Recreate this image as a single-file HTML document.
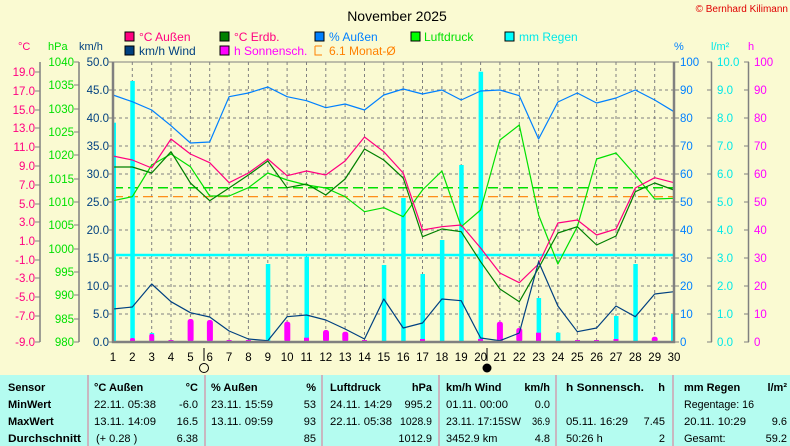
<!DOCTYPE html>
<html><head><meta charset="utf-8"><style>
html,body{margin:0;padding:0;background:#fafad2;}
svg{display:block;font-family:"Liberation Sans",sans-serif;}
.tb{font-family:"Liberation Sans Narrow","Liberation Sans",sans-serif;font-size:11px;fill:#000;}
.b{font-weight:bold;}
</style></head><body>
<svg width="790" height="446" viewBox="0 0 790 446" xmlns="http://www.w3.org/2000/svg">
<rect width="790" height="446" fill="#fafad2"/>
<text x="397" y="21" font-size="14" text-anchor="middle" fill="#000">November 2025</text>
<text x="788" y="12" font-size="10" text-anchor="end" fill="#e00000">© Bernhard Kilimann</text>
<g font-size="12">
<rect x="125" y="32" width="9" height="9" fill="#ff0080" stroke="#000"/><text x="139" y="41" fill="#ff0080">°C  Außen</text>
<rect x="220" y="32" width="9" height="9" fill="#008000" stroke="#000"/><text x="234" y="41" fill="#ff0080">°C Erdb.</text>
<rect x="315" y="32" width="9" height="9" fill="#0080ff" stroke="#000"/><text x="329" y="41" fill="#0080ff">% Außen</text>
<rect x="411" y="32" width="9" height="9" fill="#00ff00" stroke="#000"/><text x="424" y="41" fill="#00e000">Luftdruck</text>
<rect x="505" y="32" width="9" height="9" fill="#00ffff" stroke="#000"/><text x="519" y="41" fill="#00e8e8">mm Regen</text>
<rect x="125" y="46" width="9" height="9" fill="#004080" stroke="#000"/><text x="139" y="55" fill="#004080">km/h Wind</text>
<rect x="220" y="46" width="9" height="9" fill="#ff00ff" stroke="#000"/><text x="234" y="55" fill="#ff00ff">h Sonnensch.</text>
<path d="M315 46h7M315 46v9h7" stroke="#ff8000" fill="none"/><text x="329" y="55" fill="#ff8000">6.1 Monat-Ø</text>
</g>
<g font-size="11">
<text x="18" y="50" fill="#ff0080">°C</text>
<text x="48" y="50" fill="#00e000">hPa</text>
<text x="79" y="50" fill="#004080">km/h</text>
<text x="674" y="50" fill="#0080ff">%</text>
<text x="711" y="50" fill="#00e8e8">l/m²</text>
<text x="748" y="50" fill="#ff00ff">h</text>
</g>
<g stroke="#808080" stroke-width="1.5">
<line x1="40" y1="62" x2="40" y2="342"/><line x1="79" y1="62" x2="79" y2="342"/>
<line x1="711.5" y1="62" x2="711.5" y2="342"/><line x1="748.5" y1="62" x2="748.5" y2="342"/>
</g>
<g font-size="11.5" text-anchor="end">
<g fill="#ff0080">
<text x="35" y="76">19.0</text><text x="35" y="95">17.0</text><text x="35" y="114">15.0</text><text x="35" y="132">13.0</text><text x="35" y="151">11.0</text><text x="35" y="170">9.0</text><text x="35" y="189">7.0</text><text x="35" y="208">5.0</text><text x="35" y="226">3.0</text><text x="35" y="245">1.0</text><text x="35" y="264">-1.0</text><text x="35" y="282">-3.0</text><text x="35" y="301">-5.0</text><text x="35" y="320">-7.0</text><text x="35" y="346">-9.0</text>
</g>
<g fill="#00e000">
<text x="74" y="66">1040</text><text x="74" y="89">1035</text><text x="74" y="113">1030</text><text x="74" y="136">1025</text><text x="74" y="159">1020</text><text x="74" y="183">1015</text><text x="74" y="206">1010</text><text x="74" y="229">1005</text><text x="74" y="253">1000</text><text x="74" y="276">995</text><text x="74" y="299">990</text><text x="74" y="323">985</text><text x="74" y="346">980</text>
</g>
<g fill="#004080">
<text x="109" y="66">50.0</text><text x="109" y="94">45.0</text><text x="109" y="122">40.0</text><text x="109" y="150">35.0</text><text x="109" y="178">30.0</text><text x="109" y="206">25.0</text><text x="109" y="234">20.0</text><text x="109" y="262">15.0</text><text x="109" y="290">10.0</text><text x="109" y="318">5.0</text><text x="109" y="346">0.0</text>
</g>
</g>
<g font-size="11.5">
<g fill="#0080ff">
<text x="680" y="66">100</text><text x="680" y="94">90</text><text x="680" y="122">80</text><text x="680" y="150">70</text><text x="680" y="178">60</text><text x="680" y="206">50</text><text x="680" y="234">40</text><text x="680" y="262">30</text><text x="680" y="290">20</text><text x="680" y="318">10</text><text x="680" y="346">0</text>
</g>
<g fill="#00e8e8">
<text x="717" y="66">10.0</text><text x="717" y="94">9.0</text><text x="717" y="122">8.0</text><text x="717" y="150">7.0</text><text x="717" y="178">6.0</text><text x="717" y="206">5.0</text><text x="717" y="234">4.0</text><text x="717" y="262">3.0</text><text x="717" y="290">2.0</text><text x="717" y="318">1.0</text><text x="717" y="346">0.0</text>
</g>
<g fill="#ff00ff">
<text x="754" y="66">100</text><text x="754" y="94">90</text><text x="754" y="122">80</text><text x="754" y="150">70</text><text x="754" y="178">60</text><text x="754" y="206">50</text><text x="754" y="234">40</text><text x="754" y="262">30</text><text x="754" y="290">20</text><text x="754" y="318">10</text><text x="754" y="346">0</text>
</g>
</g>
<g stroke="#808080" stroke-width="1">
<path d="M35 72h5M35 91h5M35 110h5M35 128h5M35 147h5M35 166h5M35 185h5M35 204h5M35 222h5M35 241h5M35 260h5M35 278h5M35 297h5M35 316h5M35 342h5"/>
<path d="M74 62h5M74 85h5M74 109h5M74 132h5M74 155h5M74 179h5M74 202h5M74 225h5M74 249h5M74 272h5M74 295h5M74 319h5M74 342h5"/>
<path d="M108 62h5M108 90h5M108 118h5M108 146h5M108 174h5M108 202h5M108 230h5M108 258h5M108 286h5M108 314h5M108 342h5"/>
<path d="M674 62h5M674 90h5M674 118h5M674 146h5M674 174h5M674 202h5M674 230h5M674 258h5M674 286h5M674 314h5M674 342h5"/>
<path d="M707 62h5M707 90h5M707 118h5M707 146h5M707 174h5M707 202h5M707 230h5M707 258h5M707 286h5M707 314h5M707 342h5"/>
<path d="M744 62h5M744 90h5M744 118h5M744 146h5M744 174h5M744 202h5M744 230h5M744 258h5M744 286h5M744 314h5M744 342h5"/>
</g>
<g stroke="#808080" stroke-width="1" stroke-dasharray="3,3">
<path d="M113 90H674M113 118H674M113 146H674M113 174H674M113 202H674M113 230H674M113 258H674M113 286H674M113 314H674"/>
<path d="M132.3 62V342M151.7 62V342M171 62V342M190.4 62V342M209.7 62V342M229.1 62V342M248.4 62V342M267.8 62V342M287.1 62V342M306.5 62V342M325.8 62V342M345.1 62V342M364.5 62V342M383.8 62V342M403.2 62V342M422.5 62V342M441.9 62V342M461.2 62V342M480.6 62V342M499.9 62V342M519.3 62V342M538.6 62V342M557.9 62V342M577.3 62V342M596.6 62V342M616 62V342M635.3 62V342M654.7 62V342"/>
</g>
<line x1="113" y1="187.7" x2="674" y2="187.7" stroke="#00e000" stroke-width="1.5" stroke-dasharray="10,5"/>
<line x1="113" y1="196.7" x2="674" y2="196.7" stroke="#ff8000" stroke-width="1.2" stroke-dasharray="10,5"/>
<line x1="113" y1="255" x2="674" y2="255" stroke="#00ffff" stroke-width="2.5"/>
<g fill="#00ffff">
<rect x="113" y="122.7" width="3" height="219.3"/>
<rect x="130.3" y="81" width="4.5" height="261"/>
<rect x="149.7" y="333" width="4.5" height="9"/>
<rect x="265.8" y="264" width="4.5" height="78"/>
<rect x="304.5" y="256.7" width="4.5" height="85.3"/>
<rect x="381.8" y="265" width="4.5" height="77"/>
<rect x="401.2" y="198" width="4.5" height="144"/>
<rect x="420.5" y="274" width="4.5" height="68"/>
<rect x="439.9" y="240" width="4.5" height="102"/>
<rect x="459.2" y="165" width="4.5" height="177"/>
<rect x="478.6" y="71.7" width="4.5" height="270.3"/>
<rect x="536.6" y="298" width="4.5" height="44"/>
<rect x="555.9" y="332.7" width="4.5" height="9.3"/>
<rect x="614" y="316" width="4.5" height="26"/>
<rect x="633.3" y="264" width="4.5" height="78"/>
<rect x="671" y="314" width="3" height="28"/>
</g>
<g fill="#ff00ff">
<rect x="130" y="338" width="5" height="4" rx="2"/>
<rect x="149.2" y="334" width="5" height="8" rx="2"/>
<rect x="168.5" y="340" width="5" height="2"/>
<rect x="187.6" y="319" width="6" height="23" rx="2.5"/>
<rect x="206.9" y="320" width="6" height="22" rx="2.5"/>
<rect x="226.6" y="340" width="5" height="2"/>
<rect x="245.9" y="340" width="5" height="2"/>
<rect x="284.3" y="321.7" width="6" height="20.3" rx="2.5"/>
<rect x="304" y="337.7" width="5" height="4.3"/>
<rect x="323" y="330" width="6" height="12" rx="2.5"/>
<rect x="342.3" y="331.7" width="6" height="10.3" rx="2.5"/>
<rect x="362" y="340" width="5" height="2"/>
<rect x="420" y="339" width="5" height="3"/>
<rect x="478" y="339" width="5" height="3"/>
<rect x="496.9" y="321.7" width="6" height="20.3" rx="2.5"/>
<rect x="516.3" y="328" width="6" height="14" rx="2.5"/>
<rect x="536" y="332.7" width="5" height="9.3"/>
<rect x="575" y="340" width="5" height="2"/>
<rect x="594" y="340" width="5" height="2"/>
<rect x="613.5" y="339" width="5" height="3"/>
<rect x="651.7" y="336.7" width="6" height="5.3" rx="2.5"/>
</g>
<g fill="none" stroke-width="1.2" stroke-linejoin="round">
<polyline stroke="#0080ff" points="113,95 132.3,101.7 151.7,110 171,125.7 190.4,143 209.7,142 229.1,96.7 248.4,93 267.8,87 287.1,96.7 306.5,100.7 325.8,107.7 345.1,104 364.5,110 383.8,95 403.2,89 422.5,94 441.9,90 461.2,100 480.6,91 499.9,90 519.3,95.7 538.6,139 557.9,102 577.3,93 596.6,103 616,98 635.3,90 654.7,100 674,111.7"/>
<polyline stroke="#00e000" points="113,200.7 132.3,196.7 151.7,165 171,154 190.4,166.7 209.7,196 229.1,196 248.4,187.7 267.8,173 287.1,180 306.5,185 325.8,188 345.1,196.7 364.5,211.7 383.8,207.7 403.2,216.7 422.5,190 441.9,171 461.2,226.7 480.6,210 499.9,140 519.3,125 538.6,215 557.9,264 577.3,226.7 596.6,159 616,153 635.3,175 654.7,199 674,198.3"/>
<polyline stroke="#008000" points="113,167 132.3,167 151.7,173 171,151.7 190.4,183 209.7,200.7 229.1,188 248.4,175 267.8,161 287.1,187.7 306.5,184 325.8,195 345.1,179 364.5,149 383.8,160 403.2,178 422.5,236.7 441.9,229 461.2,231.7 480.6,261.7 499.9,289 519.3,301.7 538.6,268 557.9,233 577.3,226.7 596.6,245 616,236 635.3,191.7 654.7,183 674,190"/>
<polyline stroke="#ff0080" points="113,156 132.3,160 151.7,168 171,139 190.4,154 209.7,162.7 229.1,182.7 248.4,173 267.8,159 287.1,175.7 306.5,171 325.8,175 345.1,161 364.5,137 383.8,151.7 403.2,173 422.5,230 441.9,226.7 461.2,225 480.6,248 499.9,273 519.3,282.7 538.6,264 557.9,223 577.3,220 596.6,235 616,229 635.3,188 654.7,177.7 674,182.7"/>
<polyline stroke="#004080" points="113,309 132.3,307 151.7,284 171,301.7 190.4,312.7 209.7,317 229.1,331 248.4,339 267.8,340.7 287.1,316.7 306.5,315 325.8,320 345.1,329 364.5,339 383.8,299 403.2,328 422.5,323 441.9,299 461.2,300.7 480.6,338 499.9,340.7 519.3,333 538.6,261.7 557.9,306 577.3,331.7 596.6,328 616,306 635.3,316.7 654.7,294 674,291.7"/>
</g>
<path d="M113 62V342H674V62" fill="none" stroke="#808080" stroke-width="2.5"/>
<line x1="113" y1="62" x2="674" y2="62" stroke="#808080" stroke-width="1"/>
<g font-size="11.5" text-anchor="middle" fill="#000">
<text x="113" y="361">1</text><text x="132.3" y="361">2</text><text x="151.7" y="361">3</text><text x="171" y="361">4</text><text x="190.4" y="361">5</text><text x="209.7" y="361">6</text><text x="229.1" y="361">7</text><text x="248.4" y="361">8</text><text x="267.8" y="361">9</text><text x="287.1" y="361">10</text><text x="306.5" y="361">11</text><text x="325.8" y="361">12</text><text x="345.1" y="361">13</text><text x="364.5" y="361">14</text><text x="383.8" y="361">15</text><text x="403.2" y="361">16</text><text x="422.5" y="361">17</text><text x="441.9" y="361">18</text><text x="461.2" y="361">19</text><text x="480.6" y="361">20</text><text x="499.9" y="361">21</text><text x="519.3" y="361">22</text><text x="538.6" y="361">23</text><text x="557.9" y="361">24</text><text x="577.3" y="361">25</text><text x="596.6" y="361">26</text><text x="616" y="361">27</text><text x="635.3" y="361">28</text><text x="654.7" y="361">29</text><text x="674" y="361">30</text>
</g>
<line x1="204" y1="348" x2="204" y2="361" stroke="#000"/>
<circle cx="204" cy="368" r="4.5" fill="#fafad2" stroke="#000"/>
<line x1="487" y1="348" x2="487" y2="361" stroke="#000"/>
<circle cx="487" cy="368" r="4.5" fill="#000"/>
<rect x="0" y="375" width="790" height="71" fill="#b4fcf0"/>
<g stroke="#d0a0b0" stroke-width="1.5">
<line x1="88" y1="375" x2="88" y2="446"/><line x1="205" y1="375" x2="205" y2="446"/><line x1="322" y1="375" x2="322" y2="446"/><line x1="439" y1="375" x2="439" y2="446"/><line x1="556" y1="375" x2="556" y2="446"/><line x1="673" y1="375" x2="673" y2="446"/>
</g>
<g class="tb">
<text class="b" x="8" y="391">Sensor</text>
<text class="b" x="8" y="408">MinWert</text>
<text class="b" x="8" y="425">MaxWert</text>
<text class="b" x="8" y="442" textLength="73" lengthAdjust="spacingAndGlyphs">Durchschnitt</text>
<text class="b" x="94" y="391">°C  Außen</text><text class="b" x="198" y="391" text-anchor="end">°C</text>
<text class="b" x="211" y="391">% Außen</text><text class="b" x="316" y="391" text-anchor="end">%</text>
<text class="b" x="330" y="391">Luftdruck</text><text class="b" x="432" y="391" text-anchor="end">hPa</text>
<text class="b" x="446" y="391">km/h Wind</text><text class="b" x="550" y="391" text-anchor="end">km/h</text>
<text class="b" x="566" y="391" textLength="78" lengthAdjust="spacingAndGlyphs">h Sonnensch.</text><text class="b" x="665" y="391" text-anchor="end">h</text>
<text class="b" x="684" y="391">mm Regen</text><text class="b" x="787" y="391" text-anchor="end">l/m²</text>
<text x="94" y="408" textLength="62" lengthAdjust="spacingAndGlyphs">22.11.  05:38</text><text x="198" y="408" text-anchor="end">-6.0</text>
<text x="211" y="408" textLength="62" lengthAdjust="spacingAndGlyphs">23.11.  15:59</text><text x="316" y="408" text-anchor="end">53</text>
<text x="330" y="408" textLength="62" lengthAdjust="spacingAndGlyphs">24.11.  14:29</text><text x="432" y="408" text-anchor="end">995.2</text>
<text x="446" y="408" textLength="62" lengthAdjust="spacingAndGlyphs">01.11.  00:00</text><text x="550" y="408" text-anchor="end">0.0</text>
<text x="684" y="408" textLength="70" lengthAdjust="spacingAndGlyphs">Regentage: 16</text>
<text x="94" y="425" textLength="62" lengthAdjust="spacingAndGlyphs">13.11.  14:09</text><text x="198" y="425" text-anchor="end">16.5</text>
<text x="211" y="425" textLength="62" lengthAdjust="spacingAndGlyphs">13.11.  09:59</text><text x="316" y="425" text-anchor="end">93</text>
<text x="330" y="425" textLength="62" lengthAdjust="spacingAndGlyphs">22.11.  05:38</text><text x="432" y="425" text-anchor="end" textLength="32" lengthAdjust="spacingAndGlyphs">1028.9</text>
<text x="446" y="425" textLength="75" lengthAdjust="spacingAndGlyphs">23.11.  17:15SW</text><text x="550" y="425" text-anchor="end" textLength="18" lengthAdjust="spacingAndGlyphs">36.9</text>
<text x="566" y="425" textLength="62" lengthAdjust="spacingAndGlyphs">05.11.  16:29</text><text x="665" y="425" text-anchor="end">7.45</text>
<text x="684" y="425" textLength="62" lengthAdjust="spacingAndGlyphs">20.11.  10:29</text><text x="787" y="425" text-anchor="end">9.6</text>
<text x="96" y="442">(+ 0.28 )</text><text x="198" y="442" text-anchor="end">6.38</text>
<text x="316" y="442" text-anchor="end">85</text>
<text x="432" y="442" text-anchor="end">1012.9</text>
<text x="446" y="442">3452.9 km</text><text x="550" y="442" text-anchor="end">4.8</text>
<text x="566" y="442">50:26 h</text><text x="665" y="442" text-anchor="end">2</text>
<text x="684" y="442">Gesamt:</text><text x="787" y="442" text-anchor="end">59.2</text>
</g>
</svg>
</body></html>
